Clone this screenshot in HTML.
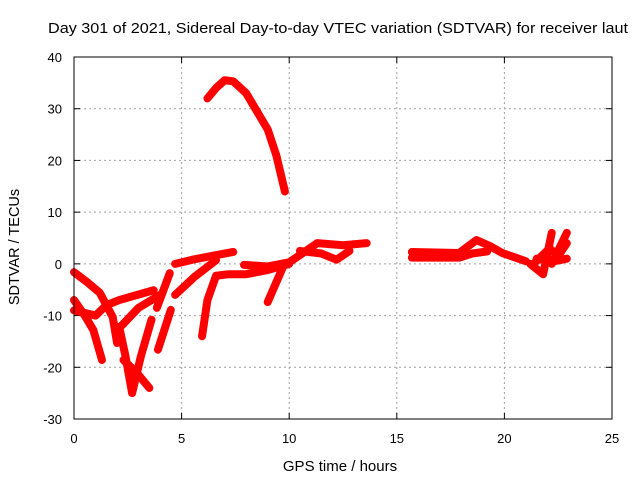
<!DOCTYPE html>
<html><head><meta charset="utf-8"><style>
body{margin:0;background:#fff}
svg{display:block;font-family:"Liberation Sans",sans-serif;font-size:13px}
</style></head><body>
<svg id="c" width="640" height="480">
<text x="48" y="33" textLength="580" lengthAdjust="spacingAndGlyphs" font-size="14.5">Day 301 of 2021, Sidereal Day-to-day VTEC variation (SDTVAR) for receiver laut</text>
<text x="340" y="471" text-anchor="middle" font-size="15">GPS time / hours</text>
<text transform="translate(19,247) rotate(-90)" text-anchor="middle" font-size="14.5">SDTVAR / TECUs</text>
<g id="grid"></g><g id="marks"></g>
<rect x="74" y="57" width="538" height="362" fill="none" stroke="#000" stroke-width="1"/>
</svg>
<script>
const xTicks=[0,5,10,15,20,25];
const yTicks=[-30,-20,-10,0,10,20,30,40];
const arcTrack=[[6.2,32],[6.6,34],[7,35.5],[7.4,35.3],[8,33],[8.5,29.5],[9,26],[9.4,21],[9.8,14]];
const trackL1=[[0,-1.6],[0.6,-3.5],[1.2,-5.6],[1.8,-10.3],[2.0,-15.3]];
const trackL2=[[0,-7],[0.5,-10],[0.9,-12.8],[1.3,-18.6]];
const trackL3=[[0,-9],[1,-10],[1.5,-8],[2.1,-7],[3.7,-5.1]];
const trackL4=[[2.1,-12.2],[2.4,-18],[2.7,-25],[3.1,-18],[3.6,-10.8]];
const trackL5=[[2.3,-18.6],[2.9,-21],[3.5,-24]];
const trackL6=[[2.2,-12],[3,-8.5],[4.0,-6]];
const trackL7=[[3.9,-16.6],[4.5,-8.9]];
const trackL8=[[3.85,-8.5],[4.45,-1.8]];
const trackL9=[[4.7,-6],[5.6,-2.5],[6.6,0.7]];
const trackL10=[[4.7,0],[5.5,0.8],[6.5,1.6],[7.4,2.3]];
const trackB=[[5.95,-14],[6.2,-7],[6.6,-2.3],[7.2,-2],[8,-2],[9,-1.2],[10,0]];
const trackC=[[9.0,-7.4],[9.7,-0.7]];
const trackD=[[7.9,-0.2],[9,-0.5],[10,0.3],[10.6,2],[11.3,4],[12.5,3.6],[13.6,4]];
const trackE=[[10.5,2.5],[11.5,2],[12.2,0.8],[12.8,2.5]];
const trackR1=[[15.7,2.3],[17.9,2.1],[18.7,4.6],[19.3,3.5],[19.9,2.1],[21,0.5]];
const trackR2=[[15.7,1.2],[17.9,1.2],[18.5,2],[19.2,2.4]];
const trackR3=[[21.2,0],[21.8,-2],[22.2,6]];
const trackR4=[[22.2,0],[22.9,6]];
const trackR5=[[21.5,1],[22.3,0.5],[22.9,1]];
const trackR6=[[21.4,0.2],[22.1,3],[22.5,1.5],[22.9,4]];
const tracks=[arcTrack,trackL1,trackL2,trackL3,trackL4,trackL5,trackL6,trackL7,trackL8,trackL9,trackL10,trackB,trackC,trackD,trackE,trackR1,trackR2,trackR3,trackR4,trackR5,trackR6];
const X=h=>74+h*(538/25), Y=v=>57+(40-v)*(362/70);
const NS="http://www.w3.org/2000/svg";
const g=document.getElementById('grid'), m=document.getElementById('marks');
function mk(tag,at,parent){const e=document.createElementNS(NS,tag);for(const k in at)e.setAttribute(k,at[k]);parent.appendChild(e);return e;}
xTicks.forEach(t=>{
  if(t>0&&t<25){const l=mk('line',{x1:X(t),x2:X(t),y1:57,y2:419,stroke:'#a0a0a0','stroke-dasharray':'2,3'},g);
  
  }
  mk('line',{x1:X(t),x2:X(t),y1:419,y2:413,stroke:'#000'},g);
  mk('line',{x1:X(t),x2:X(t),y1:57,y2:63,stroke:'#000'},g);
  const tx=mk('text',{x:X(t),y:443,'text-anchor':'middle'},g);tx.textContent=t;
  
  
});
yTicks.forEach(t=>{
  if(t>-30&&t<40){const l=mk('line',{x1:74,x2:612,y1:Y(t),y2:Y(t),stroke:'#a0a0a0','stroke-dasharray':'2,3'},g);
  
  }
  mk('line',{x1:74,x2:80,y1:Y(t),y2:Y(t),stroke:'#000'},g);
  mk('line',{x1:606,x2:612,y1:Y(t),y2:Y(t),stroke:'#000'},g);
  const tx=mk('text',{x:62,y:Y(t)+5,'text-anchor':'end'},g);tx.textContent=t;
  
  
});
tracks.forEach(tr=>{
  const p=mk('polyline',{points:tr.map(d=>X(d[0])+','+Y(d[1])).join(' '),fill:'none',stroke:'#ff0000','stroke-width':8,'stroke-linejoin':'round','stroke-linecap':'round'},m);
  
  
});
</script>
</body></html>
